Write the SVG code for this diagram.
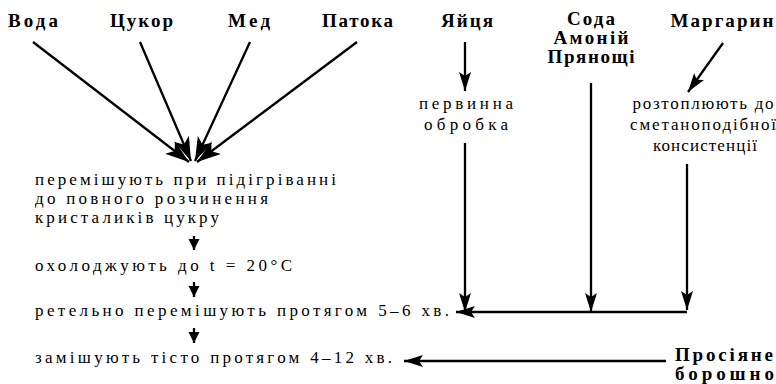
<svg xmlns="http://www.w3.org/2000/svg" width="776" height="384" viewBox="0 0 776 384">
<style>
.b{font-weight:bold;font-size:19px;fill:#000}
.t{font-size:17px;fill:#000}
.m{text-anchor:middle}
.c{stroke:#000;stroke-width:2.3;fill:none}
</style>
<defs>
<marker id="big" markerUnits="userSpaceOnUse" markerWidth="26" markerHeight="16" refX="24" refY="8" orient="auto" viewBox="0 0 26 16">
<path d="M0,0 L24,8 L0,16 L6,8 z" fill="#000"/>
</marker>
<marker id="mid" markerUnits="userSpaceOnUse" markerWidth="20" markerHeight="12" refX="19" refY="6" orient="auto" viewBox="0 0 20 12">
<path d="M0,0 L19,6 L0,12 L4,6 z" fill="#000"/>
</marker>
<marker id="sm" markerUnits="userSpaceOnUse" markerWidth="12" markerHeight="12" refX="11" refY="6" orient="auto" viewBox="0 0 12 12">
<path d="M0,0.5 L11,6 L0,11.5 z" fill="#000"/>
</marker>
</defs>

<g font-family="Liberation Serif, DejaVu Serif, serif">
<g id="voda"><text class="b" x="8" y="27" textLength="50" lengthAdjust="spacing">Вода</text></g>
<g id="tsukor"><text class="b" x="110" y="27" textLength="63" lengthAdjust="spacing">Цукор</text></g>
<g id="med"><text class="b" x="228" y="27" textLength="42" lengthAdjust="spacing">Мед</text></g>
<g id="patoka"><text class="b" x="322" y="27" textLength="71" lengthAdjust="spacing">Патока</text></g>
<g id="yaitsia"><text class="b m" x="467" y="27" textLength="52" lengthAdjust="spacing">Яйця</text></g>
<g id="soda"><text class="b m" x="591" y="25" textLength="48" lengthAdjust="spacing">Сода</text><text class="b m" x="591" y="44" textLength="75" lengthAdjust="spacing">Амоній</text><text class="b m" x="591" y="63" textLength="87" lengthAdjust="spacing">Прянощі</text></g>
<g id="margaryn"><text class="b m" x="722" y="27" textLength="103" lengthAdjust="spacing">Маргарин</text></g>

<g id="mix"><text class="t" x="35" y="185" textLength="301" lengthAdjust="spacing">перемішують при підігріванні</text><text class="t" x="35" y="204" textLength="233" lengthAdjust="spacing">до повного розчинення</text><text class="t" x="35" y="223" textLength="184" lengthAdjust="spacing">кристаликів цукру</text></g>
<g id="cool"><text class="t" x="35" y="271" textLength="257" lengthAdjust="spacing">охолоджують до t = 20°C</text></g>
<g id="stir"><text class="t" x="35" y="316" textLength="414" lengthAdjust="spacing">ретельно перемішують протягом 5–6 хв.</text></g>
<g id="knead"><text class="t" x="35" y="363" textLength="357" lengthAdjust="spacing">замішують тісто протягом 4–12 хв.</text></g>
<g id="obrobka"><text class="t m" x="466" y="109" textLength="94" lengthAdjust="spacing">первинна</text><text class="t m" x="466" y="130" textLength="84" lengthAdjust="spacing">обробка</text></g>
<g id="roztop"><text class="t m" x="703" y="109" textLength="141" lengthAdjust="spacing">розтоплюють до</text><text class="t m" x="703" y="130" textLength="146" lengthAdjust="spacing">сметаноподібної</text><text class="t m" x="705" y="151" textLength="104" lengthAdjust="spacing">консистенції</text></g>
<g id="boroshno"><text class="b" x="675" y="361" font-size="17" textLength="98" lengthAdjust="spacing">Просіяне</text><text class="b" x="675" y="380" font-size="17" textLength="99" lengthAdjust="spacing">борошно</text></g>
</g>

<g id="connectors">
<line class="c" x1="33" y1="42" x2="189" y2="162" marker-end="url(#big)"/>
<line class="c" x1="140" y1="42" x2="191" y2="161" marker-end="url(#big)"/>
<line class="c" x1="250" y1="42" x2="195" y2="161" marker-end="url(#big)"/>
<line class="c" x1="357" y1="42" x2="197" y2="162" marker-end="url(#big)"/>
<line class="c" x1="194" y1="236" x2="194" y2="250" marker-end="url(#sm)"/>
<line class="c" x1="194" y1="282" x2="194" y2="297" marker-end="url(#sm)"/>
<line class="c" x1="194" y1="328" x2="194" y2="343" marker-end="url(#sm)"/>
<line class="c" x1="465" y1="42" x2="465" y2="91" marker-end="url(#mid)"/>
<line class="c" x1="465" y1="143" x2="465" y2="312" marker-end="url(#mid)"/>
<line class="c" x1="591" y1="83" x2="591" y2="312" marker-end="url(#mid)"/>
<line class="c" x1="723" y1="43" x2="688" y2="92" marker-end="url(#mid)"/>
<line class="c" x1="687" y1="164" x2="687" y2="310" marker-end="url(#mid)"/>
<polyline class="c" points="687,312 456,312" marker-end="url(#mid)"/>
<line class="c" x1="666" y1="361" x2="404" y2="361" marker-end="url(#mid)"/>
</g>
</svg>
